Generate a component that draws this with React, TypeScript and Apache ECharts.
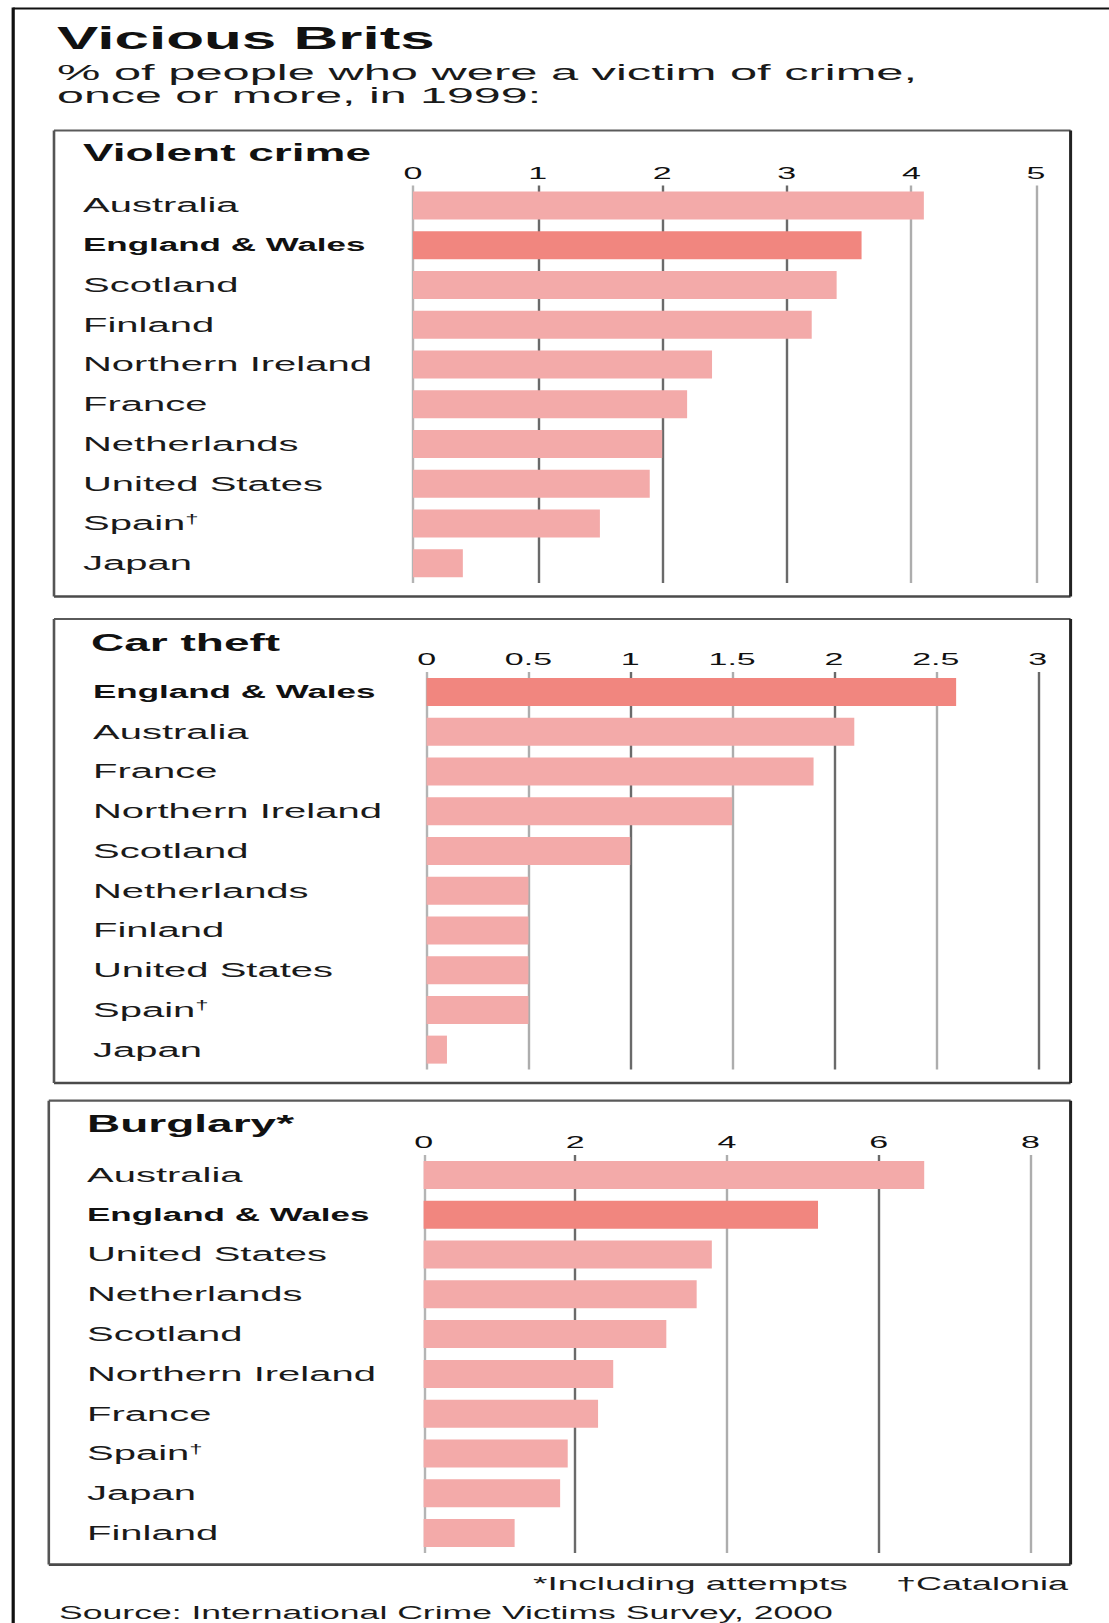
import React, { useEffect, useRef } from 'react';
import * as echarts from 'echarts';

// ---- data ----
const violentCategories = ['Australia', 'England & Wales', 'Scotland', 'Finland', 'Northern Ireland', 'France', 'Netherlands', 'United States', 'Spain†', 'Japan'];
const violentValues = [4.1, 3.6, 3.4, 3.2, 2.4, 2.2, 2.0, 1.9, 1.5, 0.4];

const carCategories = ['England & Wales', 'Australia', 'France', 'Northern Ireland', 'Scotland', 'Netherlands', 'Finland', 'United States', 'Spain†', 'Japan'];
const carValues = [2.6, 2.1, 1.9, 1.5, 1.0, 0.5, 0.5, 0.5, 0.5, 0.1];

const burglaryCategories = ['Australia', 'England & Wales', 'United States', 'Netherlands', 'Scotland', 'Northern Ireland', 'France', 'Spain†', 'Japan', 'Finland'];
const burglaryValues = [6.6, 5.2, 3.8, 3.6, 3.2, 2.5, 2.3, 1.9, 1.8, 1.2];

const violentAxis = { max: 5, interval: 1 };
const carAxis = { max: 3, interval: 0.5 };
const burglaryAxis = { max: 8, interval: 2 };

const panelTitles = ['Violent crime', 'Car theft', 'Burglary*'];
const HIGHLIGHT = 'England & Wales';

// ---- styling ----
const S = 2; // horizontal stretch of the whole picture
const W = 1109 / S;
const H = 1623;
const FONT = '"Liberation Sans", Arial, sans-serif';
const LIGHT_BAR = '#f3aaa9';
const DARK_BAR = '#f1867f';
const DG = '#6a6a6a';
const LG = '#adadad';

const grids = [
  { left: 206.5, width: 311.5, top: 185.6, height: 397.5 },
  { left: 213.3, width: 305.5, top: 672, height: 397.5 },
  { left: 211.8, width: 303.4, top: 1155, height: 398 },
];
const labelX = [41.5, 46.5, 43.5];
const titleX = [41.5, 45.5, 43.5];
const titleY = [153.5, 643, 1124];
const gridColors = [
  ['#b4b4b4', DG, DG, DG, LG, LG],
  ['#b4b4b4', LG, DG, LG, DG, LG, DG],
  ['#b4b4b4', DG, LG, DG, LG],
];
const boxes = [
  { x1: 27, x2: 535.3, y1: 130.5, y2: 596.5 },
  { x1: 27, x2: 535.3, y1: 619, y2: 1083 },
  { x1: 24.4, x2: 535.3, y1: 1100.7, y2: 1564.6 },
];

function labelFormatter(v: string) {
  if (v === HIGHLIGHT) return '{b|' + v + '}';
  if (v.endsWith('†')) return '{n|' + v.slice(0, -1) + '}{d|†}';
  return '{n|' + v + '}';
}

function buildOption() {
  const cats = [violentCategories, carCategories, burglaryCategories];
  const vals = [violentValues, carValues, burglaryValues];
  const axes = [violentAxis, carAxis, burglaryAxis];

  const xAxis = axes.map((a, i) => ({
    gridIndex: i,
    type: 'value',
    position: 'top',
    min: 0,
    max: a.max,
    interval: a.interval,
    axisLine: { show: false },
    axisTick: { show: false },
    axisLabel: { fontSize: 17, color: '#111', margin: 4, fontFamily: FONT },
    splitLine: { show: true, lineStyle: { color: gridColors[i], width: 1.2 } },
  }));

  const yAxis = cats.map((c, i) => ({
    gridIndex: i,
    type: 'category',
    data: c,
    inverse: true,
    axisLine: { show: false },
    axisTick: { show: false },
    splitLine: { show: false },
    axisLabel: {
      interval: 0,
      align: 'left',
      margin: grids[i].left - labelX[i],
      formatter: labelFormatter,
      rich: {
        n: { fontSize: 20, color: '#1a1a1a', fontFamily: FONT, lineHeight: 22 },
        b: { fontSize: 17.5, fontWeight: 'bold', color: '#111', fontFamily: FONT, lineHeight: 22 },
        d: { fontSize: 12, color: '#1a1a1a', fontFamily: FONT, verticalAlign: 'top', lineHeight: 12 },
      },
    },
  }));

  const series = vals.map((v, i) => ({
    type: 'bar',
    xAxisIndex: i,
    yAxisIndex: i,
    barWidth: 28,
    silent: true,
    data: v.map((val, k) => ({
      value: val,
      itemStyle: { color: cats[i][k] === HIGHLIGHT ? DARK_BAR : LIGHT_BAR },
    })),
  }));

  const txt = (text: string, x: number, y: number, fontSize: number, bold = false, fill = '#111', scaleX = 1) => ({
    type: 'text',
    x,
    y,
    scaleX,
    silent: true,
    style: {
      text,
      fontSize,
      fontWeight: bold ? 'bold' : 'normal',
      fontFamily: FONT,
      fill,
      align: 'left',
      verticalAlign: 'middle',
    },
  });
  const line = (x1: number, y1: number, x2: number, y2: number, lw: number, color: string) => ({
    type: 'line',
    silent: true,
    shape: { x1, y1, x2, y2 },
    style: { stroke: color, lineWidth: lw },
  });

  const graphic: any[] = [];
  // outer frame (top + left)
  graphic.push(line(6.6, 8.5, W, 8.5, 2, '#111'));
  graphic.push(line(6.6, 7.5, 6.6, H, 1.6, '#111'));
  // panel boxes
  boxes.forEach((b) => {
    graphic.push(line(b.x1, b.y1, b.x2, b.y1, 2.2, '#5a5a5a'));
    graphic.push(line(b.x1, b.y2, b.x2, b.y2, 2.6, '#4a4a4a'));
    graphic.push(line(b.x1, b.y1, b.x1, b.y2, 1.3, '#555'));
    graphic.push(line(b.x2, b.y1, b.x2, b.y2, 1.5, '#222'));
  });
  // headline texts
  graphic.push(txt('Vicious Brits', 28.5, 38.5, 31, true, '#111'));
  graphic.push(txt('% of people who were a victim of crime,', 28.5, 72, 22, false, '#1a1a1a', 1.11));
  graphic.push(txt('once or more, in 1999:', 28.5, 95, 22, false, '#1a1a1a', 1.1));
  panelTitles.forEach((t, i) => graphic.push(txt(t, titleX[i], titleY[i], 23, true, '#111')));
  // footnotes
  graphic.push(txt('*Including attempts', 266.5, 1583.5, 18.5, false, '#1a1a1a'));
  graphic.push(txt('†Catalonia', 448, 1583.5, 18, false, '#1a1a1a'));
  graphic.push(txt('Source: International Crime Victims Survey, 2000', 29.5, 1612.8, 17.8, false, '#1a1a1a'));

  return {
    animation: false,
    backgroundColor: '#ffffff',
    textStyle: { fontFamily: FONT },
    grid: grids,
    xAxis,
    yAxis,
    series,
    graphic,
  };
}

export default function App() {
  const ref = useRef<HTMLDivElement>(null);
  useEffect(() => {
    if (!ref.current) return;
    const chart = echarts.init(ref.current, undefined, { renderer: 'svg', width: W, height: H });
    chart.setOption(buildOption() as any);
    return () => chart.dispose();
  }, []);
  return (
    <div
      ref={ref}
      style={{
        position: 'absolute',
        left: 0,
        top: 0,
        width: W,
        height: H,
        transform: `scaleX(${S})`,
        transformOrigin: '0 0',
        background: '#fff',
      }}
    />
  );
}
